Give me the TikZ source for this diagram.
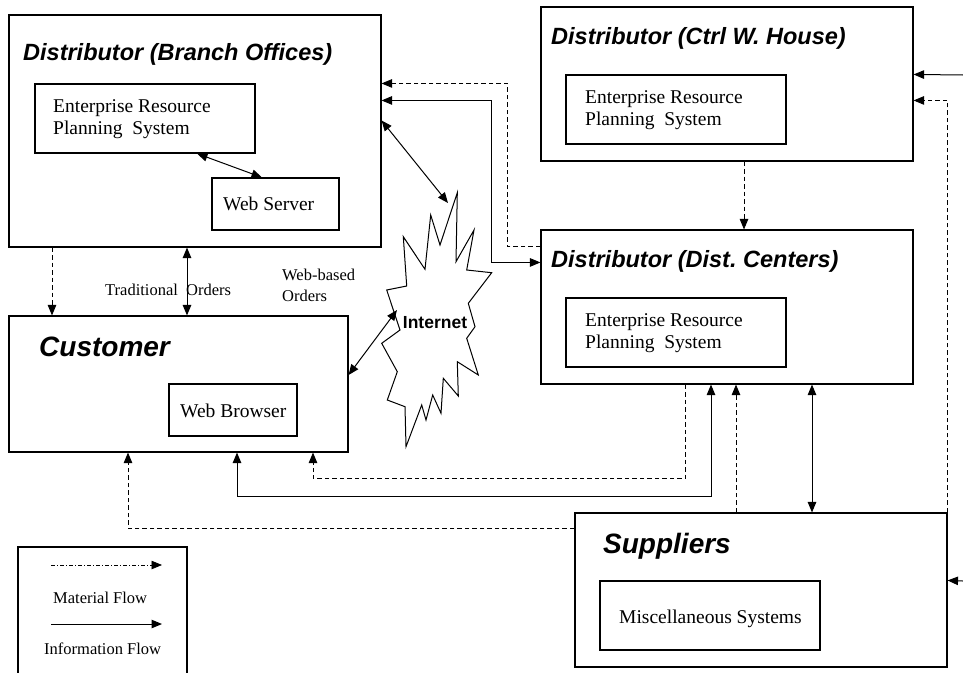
\documentclass[tikz,border=0pt]{standalone}
\usepackage{fontspec}
\setmainfont{Liberation Serif}
\setsansfont{Liberation Sans}
\usetikzlibrary{arrows.meta,positioning}
\tikzset{box/.style={draw,line width=1.1pt,inner sep=0pt}}
\tikzset{title/.style={anchor=base west,inner sep=0pt,font=\sffamily\bfseries\itshape\fontsize{23.5}{26}\selectfont}}
\tikzset{bigtitle/.style={title,font=\sffamily\bfseries\itshape\fontsize{28}{32}\selectfont}}
\tikzset{boxtext/.style={anchor=base west,inner sep=0pt,align=left,font=\fontsize{19.5}{22.5}\selectfont}}
\tikzset{small/.style={anchor=base west,inner sep=0pt,align=left,font=\fontsize{16.5}{21}\selectfont}}
\tikzset{info/.style={line width=1pt}}
\tikzset{material/.style={line width=0.9pt,dash pattern=on 4.5pt off 3pt}}

\begin{document}
\begin{tikzpicture}[x=1pt,y=-1pt,>={Triangle[length=10.5pt,width=8.5pt]}]
        \clip (0,0) rectangle (963,672);
        \node[box,minimum width=372pt,minimum height=232pt] (branch) at (195,131) {};
        \node[title] (branchtitle) at (23,60) {Distributor (Branch Offices)};
        \node[box,minimum width=220pt,minimum height=69pt] (bERP) at (145,118.5) {};
        \node[boxtext] (bERPtext) at (53,134.5) {Enterprise Resource\\Planning\ \ System};
        \node[box,minimum width=127pt,minimum height=52pt] (webserver) at (275.5,204) {};
        \node[boxtext] (webservertext) at (223,210) {Web Server};
            \path[draw,info,<->] ([xshift=52pt]bERP.south) -- ([xshift=-13.5pt]webserver.north);
        \node[box,minimum width=372pt,minimum height=154pt] (ctrl) at (727,84) {};
        \node[title] (ctrltitle) at (551,44) {Distributor (Ctrl W.\ House)};
        \node[box,minimum width=220pt,minimum height=69pt] (cERP) at (676,109.5) {};
        \node[boxtext] (cERPtext) at (585,125.5) {Enterprise Resource\\Planning\ \ System};
        \node[box,minimum width=372pt,minimum height=154pt] (dist) at (727,307) {};
        \node[title] (disttitle) at (551,267) {Distributor (Dist.\ Centers)};
        \node[box,minimum width=220pt,minimum height=69pt] (dERP) at (676,332.5) {};
        \node[boxtext] (dERPtext) at (585,348.5) {Enterprise Resource\\Planning\ \ System};
        \node[box,minimum width=339pt,minimum height=136pt] (customer) at (178.5,384) {};
        \node[bigtitle] (customertitle) at (39,356) {Customer};
        \node[box,minimum width=128pt,minimum height=52pt] (browser) at (233,410) {};
        \node[boxtext] (browsertext) at (180,417) {Web Browser};
        \node[box,minimum width=372pt,minimum height=154pt] (suppliers) at (761,590) {};
        \node[bigtitle] (supplierstitle) at (603,553) {Suppliers};
        \node[box,minimum width=220pt,minimum height=69pt] (misc) at (710,615.5) {};
        \node[boxtext] (misctext) at (619,623) {Miscellaneous Systems};
        \node[small] (traditional) at (105,295) {Traditional\ \ Orders};
        \node[small] (webbased) at (282,301) {Web-based\\Orders};
        \draw[line width=1pt] (457.3,192.7) -- (456,261.7) -- (474,230) -- (466.7,270) -- (491.7,272.7)
            -- (468.3,303.3) -- (475,326.7) -- (466.7,338.3) -- (478.3,375) -- (457.3,361.7) -- (458.3,396)
            -- (443.3,378.3) -- (441,413.3) -- (432.7,395) -- (426,420) -- (421.7,405) -- (406,446.7)
            -- (405,406.7) -- (387.3,400) -- (397.3,371.7) -- (381.7,343.3) -- (400,330) -- (386.7,290)
            -- (406.7,286) -- (403.3,236.7) -- (425,269.3) -- (430.7,215) -- (440,245) -- cycle;
        \node[font=\sffamily\bfseries\fontsize{17.5}{20}\selectfont,inner sep=0pt] (net) at (435,323) {Internet};
        \coordinate (nettop) at (448,203);
        \coordinate (netleft) at (397,310);
        \coordinate (ctrlin) at (963,75);
        \coordinate (supin) at (963,581);
            \path[draw,material,->] ([xshift=-143pt]branch.south) -- ([xshift=-126.5pt]customer.north);
            \path[draw,info,<->] ([xshift=-8pt]branch.south) -- ([xshift=8.5pt]customer.north);
            \path[draw,info,<->] ([yshift=9pt]customer.east) -- (netleft);
            \path[draw,info,<->] ([yshift=-106pt]branch.north east) -- (nettop);
            \path[draw,material,->] ([yshift=-17pt]dist.north west) -- ++(-33,0) |- ([yshift=-69pt]branch.north east);
            \path[draw,info,<->] ([yshift=-86pt]branch.north east) -- ++(110,0) |- ([yshift=-33pt]dist.north west);
            \path[draw,material,->] ([xshift=17pt]ctrl.south) -- ([xshift=17pt]dist.north);
            \path[draw,material,->] ([xshift=-42pt]dist.south) -- ++(0,94) -| ([xshift=134.5pt]customer.south);
            \path[draw,info,<->] ([xshift=-16pt]dist.south) -- ++(0,112) -| ([xshift=58.5pt]customer.south);
            \path[draw,material,->] ([yshift=-16pt]suppliers.north west) -| ([xshift=-50.5pt]customer.south);
            \path[draw,material,->] ([xshift=-25pt]suppliers.north) -- ([xshift=9pt]dist.south);
            \path[draw,info,<->] ([xshift=51pt]suppliers.north) -- ([xshift=85pt]dist.south);
            \path[draw,material,->] (suppliers.north east) |- ([yshift=-94pt]ctrl.north east);
            \path[draw,info,->] (ctrlin) -- ([yshift=-68pt]ctrl.north east);
            \path[draw,info,->] (supin) -- ([yshift=-68pt]suppliers.north east);
        \node[box,minimum width=169pt,minimum height=133pt] (legend) at (102.5,613.5) {};
        \coordinate (matstart) at (51,565);
        \coordinate (matend) at (162,565);
        \coordinate (infostart) at (51,624);
        \coordinate (infoend) at (162,624);
            \path[draw,line width=0.8pt,dash pattern=on 4pt off 2pt on 1pt off 2pt,->] (matstart) -- (matend);
            \path[draw,info,->] (infostart) -- (infoend);
        \node[small] (materialtext) at (53,603) {Material Flow};
        \node[small] (infotext) at (44,654) {Information Flow};
    \end{tikzpicture}
\end{document}
